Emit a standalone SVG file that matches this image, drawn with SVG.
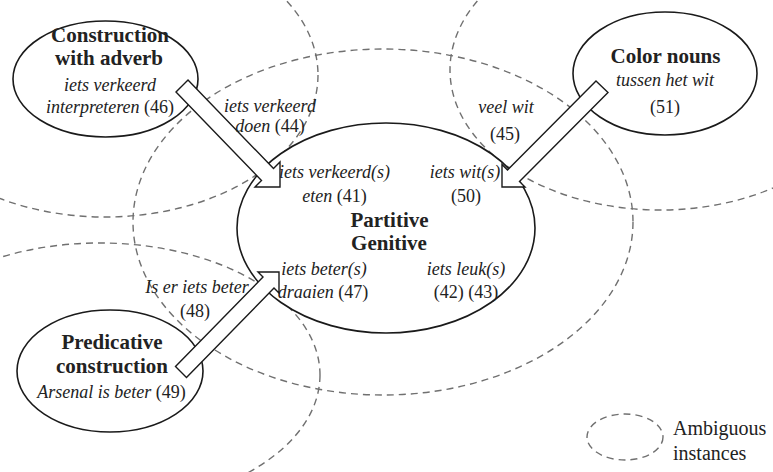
<svg xmlns="http://www.w3.org/2000/svg" width="773" height="472" viewBox="0 0 773 472">
<style>
.amb{fill:none;stroke:#707070;stroke-width:1.4;stroke-dasharray:7 5}
.node{fill:#fff;stroke:#1a1a1a;stroke-width:1.6}
.arrow{fill:#fff;stroke:#1a1a1a;stroke-width:1.4;stroke-linejoin:miter}
text{font-family:"Liberation Serif","DejaVu Serif",serif;fill:#222;text-anchor:middle}
.b{font-weight:bold;font-size:21px}
.i{font-style:italic;font-size:18px}
.r{font-size:18px}
.leg{font-size:20px;text-anchor:start}
</style>
<rect width="773" height="472" fill="#fff"/>
<g id="ambiguous-regions">
<ellipse class="amb" cx="383" cy="222" rx="250" ry="173"/>
<ellipse class="amb" cx="105" cy="75" rx="213" ry="142"/>
<ellipse class="amb" cx="660" cy="70" rx="210" ry="140"/>
<ellipse class="amb" cx="100" cy="375" rx="220" ry="132"/>
</g>
<g id="node-adverb">
<ellipse class="node" cx="105.5" cy="79" rx="92.5" ry="58"/>
<text class="b" x="110" y="42">Construction</text>
<text class="b" x="109" y="65">with adverb</text>
<text class="i" x="110" y="91">iets verkeerd</text>
<text x="110" y="113" class="i">interpreteren <tspan font-style="normal">(46)</tspan></text>
</g>
<g id="node-color">
<ellipse class="node" cx="665" cy="73.5" rx="92" ry="61.5"/>
<text class="b" x="665.5" y="63">Color nouns</text>
<text class="i" x="665" y="86">tussen het wit</text>
<text class="r" x="665" y="113">(51)</text>
</g>
<g id="node-predicative">
<ellipse class="node" cx="110" cy="371" rx="93" ry="61"/>
<text class="b" x="112" y="349">Predicative</text>
<text class="b" x="112" y="373">construction</text>
<text class="i" x="111.5" y="398">Arsenal is beter <tspan font-style="normal">(49)</tspan></text>
</g>
<g id="node-partitive">
<ellipse class="node" cx="386" cy="228" rx="149" ry="105"/>
<text class="b" x="389.5" y="227">Partitive</text>
<text class="b" x="389" y="250">Genitive</text>
<text class="i" x="334.5" y="178">iets verkeerd(s)</text>
<text class="i" x="334.5" y="202">eten <tspan font-style="normal">(41)</tspan></text>
<text class="i" x="465" y="178">iets wit(s)</text>
<text class="r" x="466" y="202">(50)</text>
<text class="i" x="324" y="275">iets beter(s)</text>
<text class="i" x="323" y="298">draaien <tspan font-style="normal">(47)</tspan></text>
<text class="i" x="466" y="275">iets leuk(s)</text>
<text class="r" x="466" y="298">(42) (43)</text>
</g>
<g id="connectors">
<polygon class="arrow" points="176,92 188,80 273.5,168.5 280,162 280,187 255,187 261.5,180.5"/>
<polygon class="arrow" points="596,81 608,92.5 519.5,181.5 525,187 502,187 502,164.5 507.5,170"/>
<polygon class="arrow" points="175.5,366.5 263,277 258,272 279,272 279,293 274,288 186.5,377.5"/>
</g>
<g id="connector-labels">
<text class="i" x="270" y="112">iets verkeerd</text>
<text class="i" x="270" y="132">doen <tspan font-style="normal">(44)</tspan></text>
<text class="i" x="506" y="113">veel wit</text>
<text class="r" x="505" y="140">(45)</text>
<text class="i" x="197" y="293">Is er iets beter</text>
<text class="r" x="195" y="317">(48)</text>
</g>
<g id="legend">
<ellipse class="amb" cx="625" cy="437" rx="38" ry="23"/>
<text class="leg" x="673" y="435">Ambiguous</text>
<text class="leg" x="673" y="460">instances</text>
</g>
</svg>
